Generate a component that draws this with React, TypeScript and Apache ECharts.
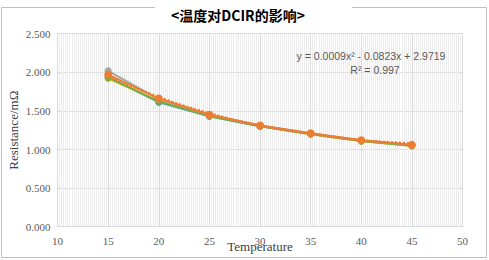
import React, { useEffect, useRef } from "react";
import * as echarts from "echarts";

const temps = [15, 20, 25, 30, 35, 40, 45];
const seriesBlue = [1.94, 1.61, 1.43, 1.3, 1.2, 1.11, 1.05];
const seriesYellow = [1.92, 1.63, 1.44, 1.31, 1.2, 1.11, 1.05];
const seriesGreen = [1.93, 1.62, 1.43, 1.3, 1.2, 1.11, 1.05];
const seriesGray = [2.02, 1.65, 1.45, 1.31, 1.21, 1.12, 1.06];
const seriesOrange = [1.97, 1.66, 1.45, 1.31, 1.21, 1.12, 1.06];
const trendValues = [1.95, 1.68, 1.47, 1.31, 1.2, 1.12, 1.08];
const yTicks = ["0.000", "0.500", "1.000", "1.500", "2.000", "2.500"];

const pairs = (vals: number[]) => temps.map((t, i) => [t, vals[i]]);

export default function App() {
  const ref = useRef<HTMLDivElement>(null);
  useEffect(() => {
    if (!ref.current) return;
    const chart = echarts.init(ref.current, undefined, { renderer: "svg" });
    const mk = (name: string, color: string, vals: number[], size: number) => ({
      name,
      type: "line",
      data: pairs(vals),
      symbol: "circle",
      symbolSize: size,
      lineStyle: { color, width: 2 },
      itemStyle: { color },
      z: 3,
    });
    chart.setOption({
      animation: false,
      grid: { left: 57.6, right: 26.5, top: 33.7, bottom: 33.3, outerBoundsMode: "none", containLabel: false },
      xAxis: {
        type: "value",
        min: 10,
        max: 50,
        interval: 5,
        name: "Temperature",
        nameLocation: "middle",
        nameGap: 13,
        nameMoveOverlap: false,
        nameTextStyle: { fontFamily: "Liberation Serif", fontSize: 13, color: "#404040" },
        axisLine: { show: true, lineStyle: { color: "#d9d9d9" } },
        axisTick: { show: false },
        axisLabel: { fontFamily: "Liberation Serif", fontSize: 11, color: "#595959", margin: 9 },
        splitLine: { show: true, lineStyle: { color: "#d9d9d9", width: 1 } },
        minorTick: { show: false, splitNumber: 25 },
        minorSplitLine: { show: true, lineStyle: { color: "#ececec", width: 1 } },
      },
      yAxis: {
        type: "value",
        min: 0,
        max: 2.5,
        interval: 0.5,
        name: "Resistance/mΩ",
        nameLocation: "middle",
        nameGap: 38,
        nameMoveOverlap: false,
        nameTextStyle: { fontFamily: "Liberation Serif", fontSize: 13, color: "#404040" },
        axisLine: { show: true, lineStyle: { color: "#d9d9d9" } },
        axisTick: { show: false },
        axisLabel: {
          fontFamily: "Liberation Serif",
          fontSize: 11,
          color: "#595959",
          margin: 7,
          formatter: (v: number) => yTicks[Math.round(v / 0.5)] ?? v.toFixed(3),
        },
        splitLine: { show: true, lineStyle: { color: "#d9d9d9" } },
      },
      series: [
        mk("A", "#5b9bd5", seriesBlue, 7),
        mk("B", "#ffc000", seriesYellow, 7),
        mk("C", "#70ad47", seriesGreen, 7),
        mk("D", "#a5a5a5", seriesGray, 7),
        mk("E", "#ed7d31", seriesOrange, 8),
        {
          name: "trend",
          type: "line",
          data: pairs(trendValues),
          smooth: true,
          symbol: "none",
          lineStyle: { color: "#ed7d31", width: 2.5, type: [2, 2] },
          z: 4,
        },
      ],
      graphic: [
        {
          type: "rect",
          shape: { x: 1.5, y: 7.5, width: 485, height: 250 },
          style: { fill: "none", stroke: "#bfbfbf", lineWidth: 1 },
          z: 0,
        },
        {
          type: "rect",
          shape: { x: 155, y: 2, width: 197, height: 14 },
          style: { fill: "#ffffff" },
          z: 1,
        },
        {
          type: "text",
          x: 238,
          y: 15,
          style: {
            text: "<温度对DCIR的影响>",
            fontFamily: "Noto Sans CJK SC",
            fontWeight: "bold",
            fontSize: 14,
            fill: "#000000",
            align: "center",
            verticalAlign: "middle",
          },
          z: 2,
        },
        {
          type: "text",
          x: 371,
          y: 56,
          style: {
            text: "y = 0.0009x² - 0.0823x + 2.9719",
            fontFamily: "Liberation Sans",
            fontSize: 10.5,
            fill: "#595959",
            align: "center",
            verticalAlign: "middle",
          },
          z: 5,
        },
        {
          type: "text",
          x: 375,
          y: 70,
          style: {
            text: "R² = 0.997",
            fontFamily: "Liberation Sans",
            fontSize: 10.5,
            fill: "#595959",
            align: "center",
            verticalAlign: "middle",
          },
          z: 5,
        },
      ],
    });
    return () => chart.dispose();
  }, []);
  return (
    <div
      ref={ref}
      style={{ position: "absolute", left: 0, top: 0, width: 489, height: 260, background: "#ffffff" }}
    />
  );
}
